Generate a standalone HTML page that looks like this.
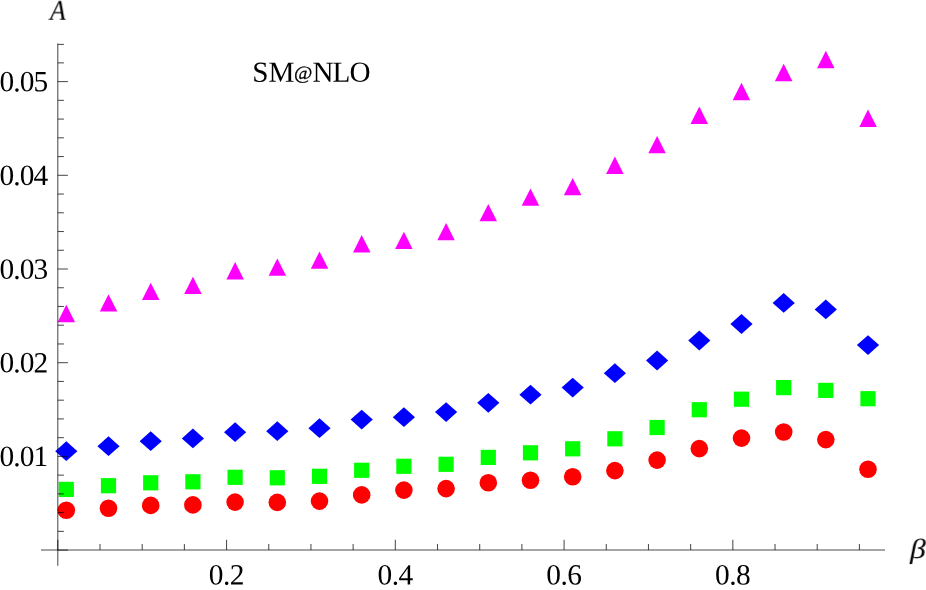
<!DOCTYPE html>
<html><head><meta charset="utf-8"><title>chart</title>
<style>
html,body{margin:0;padding:0;background:#fff;}
body{width:926px;height:590px;overflow:hidden;}
svg{display:block;}
text{font-family:"Liberation Serif",serif;fill:#000;}
</style></head><body>
<svg width="926" height="590" viewBox="0 0 926 590">
<defs><filter id="gs" x="0" y="0" width="926" height="590" filterUnits="userSpaceOnUse" color-interpolation-filters="sRGB"><feColorMatrix type="saturate" values="0"/></filter></defs>
<rect x="0" y="0" width="926" height="590" fill="#ffffff"/>

<g fill="#ff0000">
<circle cx="66.3" cy="510.2" r="8.8"/>
<circle cx="108.5" cy="508.2" r="8.8"/>
<circle cx="150.7" cy="505.4" r="8.8"/>
<circle cx="192.9" cy="504.9" r="8.8"/>
<circle cx="235.1" cy="502.1" r="8.8"/>
<circle cx="277.3" cy="502.4" r="8.8"/>
<circle cx="319.5" cy="501.1" r="8.8"/>
<circle cx="361.7" cy="494.9" r="8.8"/>
<circle cx="403.9" cy="490.1" r="8.8"/>
<circle cx="446.1" cy="488.6" r="8.8"/>
<circle cx="488.3" cy="482.7" r="8.8"/>
<circle cx="530.5" cy="480.2" r="8.8"/>
<circle cx="572.7" cy="476.7" r="8.8"/>
<circle cx="614.9" cy="470.6" r="8.8"/>
<circle cx="657.1" cy="460.1" r="8.8"/>
<circle cx="699.3" cy="448.6" r="8.8"/>
<circle cx="741.5" cy="438.1" r="8.8"/>
<circle cx="783.7" cy="432.0" r="8.8"/>
<circle cx="825.8" cy="439.6" r="8.8"/>
<circle cx="868.0" cy="469.2" r="8.8"/>
</g>
<g fill="#00ff00">
<rect x="58.7" y="481.8" width="15.2" height="15.2"/>
<rect x="100.9" y="478.1" width="15.2" height="15.2"/>
<rect x="143.1" y="475.2" width="15.2" height="15.2"/>
<rect x="185.3" y="474.2" width="15.2" height="15.2"/>
<rect x="227.5" y="469.7" width="15.2" height="15.2"/>
<rect x="269.7" y="470.2" width="15.2" height="15.2"/>
<rect x="311.9" y="468.7" width="15.2" height="15.2"/>
<rect x="354.1" y="462.7" width="15.2" height="15.2"/>
<rect x="396.3" y="458.7" width="15.2" height="15.2"/>
<rect x="438.5" y="456.7" width="15.2" height="15.2"/>
<rect x="480.7" y="449.8" width="15.2" height="15.2"/>
<rect x="522.9" y="445.2" width="15.2" height="15.2"/>
<rect x="565.1" y="441.2" width="15.2" height="15.2"/>
<rect x="607.3" y="431.2" width="15.2" height="15.2"/>
<rect x="649.5" y="419.9" width="15.2" height="15.2"/>
<rect x="691.7" y="402.1" width="15.2" height="15.2"/>
<rect x="733.9" y="391.6" width="15.2" height="15.2"/>
<rect x="776.1" y="380.0" width="15.2" height="15.2"/>
<rect x="818.2" y="382.8" width="15.2" height="15.2"/>
<rect x="860.4" y="391.1" width="15.2" height="15.2"/>
</g>
<g fill="#0000ff">
<polygon points="55.2,451.2 66.3,441.2 77.4,451.2 66.3,461.1"/>
<polygon points="97.4,446.2 108.5,436.2 119.6,446.2 108.5,456.1"/>
<polygon points="139.6,441.2 150.7,431.2 161.8,441.2 150.7,451.1"/>
<polygon points="181.8,438.4 192.9,428.4 204.0,438.4 192.9,448.3"/>
<polygon points="224.0,432.2 235.1,422.2 246.2,432.2 235.1,442.1"/>
<polygon points="266.2,431.2 277.3,421.2 288.4,431.2 277.3,441.1"/>
<polygon points="308.4,428.2 319.5,418.2 330.6,428.2 319.5,438.1"/>
<polygon points="350.6,419.6 361.7,409.7 372.8,419.6 361.7,429.6"/>
<polygon points="392.8,417.2 403.9,407.2 415.0,417.2 403.9,427.1"/>
<polygon points="435.0,412.1 446.1,402.2 457.2,412.1 446.1,422.1"/>
<polygon points="477.2,402.8 488.3,392.9 499.4,402.8 488.3,412.8"/>
<polygon points="519.4,394.7 530.5,384.8 541.6,394.7 530.5,404.6"/>
<polygon points="561.6,387.6 572.7,377.7 583.8,387.6 572.7,397.6"/>
<polygon points="603.8,373.2 614.9,363.2 626.0,373.2 614.9,383.1"/>
<polygon points="646.0,360.5 657.1,350.6 668.2,360.5 657.1,370.4"/>
<polygon points="688.2,340.5 699.3,330.6 710.4,340.5 699.3,350.4"/>
<polygon points="730.4,324.0 741.5,314.1 752.6,324.0 741.5,333.9"/>
<polygon points="772.6,302.9 783.7,292.9 794.8,302.9 783.7,312.8"/>
<polygon points="814.7,309.4 825.8,299.4 836.9,309.4 825.8,319.3"/>
<polygon points="856.9,345.1 868.0,335.2 879.1,345.1 868.0,355.1"/>
</g>
<g fill="#ff00ff">
<polygon points="66.3,304.8 75.1,322.2 57.6,322.2"/>
<polygon points="108.5,294.2 117.3,311.6 99.8,311.6"/>
<polygon points="150.7,282.7 159.5,300.1 142.0,300.1"/>
<polygon points="192.9,276.7 201.7,294.1 184.2,294.1"/>
<polygon points="235.1,262.1 243.9,279.4 226.4,279.4"/>
<polygon points="277.3,258.4 286.1,275.8 268.6,275.8"/>
<polygon points="319.5,251.4 328.3,268.8 310.8,268.8"/>
<polygon points="361.7,235.1 370.5,252.4 353.0,252.4"/>
<polygon points="403.9,231.7 412.6,249.0 395.1,249.0"/>
<polygon points="446.1,222.9 454.8,240.3 437.3,240.3"/>
<polygon points="488.3,203.9 497.0,221.3 479.5,221.3"/>
<polygon points="530.5,188.4 539.2,205.8 521.7,205.8"/>
<polygon points="572.7,177.9 581.4,195.2 563.9,195.2"/>
<polygon points="614.9,156.6 623.6,174.0 606.1,174.0"/>
<polygon points="657.1,136.0 665.8,153.3 648.3,153.3"/>
<polygon points="699.3,106.5 708.0,123.9 690.5,123.9"/>
<polygon points="741.5,82.8 750.2,100.2 732.7,100.2"/>
<polygon points="783.7,63.8 792.4,81.2 774.9,81.2"/>
<polygon points="825.8,50.8 834.6,68.2 817.1,68.2"/>
<polygon points="868.0,109.6 876.8,127.0 859.3,127.0"/>
</g>

<g stroke="#000" stroke-opacity="0.7" stroke-width="1.05" fill="none">
<line x1="41" y1="550" x2="885" y2="550"/>
<line x1="57.8" y1="43.6" x2="57.8" y2="565.8"/>
<line x1="57.80" y1="539.8" x2="57.80" y2="550"/>
<line x1="99.99" y1="543.9" x2="99.99" y2="550"/>
<line x1="142.18" y1="543.9" x2="142.18" y2="550"/>
<line x1="184.37" y1="543.9" x2="184.37" y2="550"/>
<line x1="226.56" y1="539.8" x2="226.56" y2="550"/>
<line x1="268.75" y1="543.9" x2="268.75" y2="550"/>
<line x1="310.94" y1="543.9" x2="310.94" y2="550"/>
<line x1="353.13" y1="543.9" x2="353.13" y2="550"/>
<line x1="395.32" y1="539.8" x2="395.32" y2="550"/>
<line x1="437.51" y1="543.9" x2="437.51" y2="550"/>
<line x1="479.70" y1="543.9" x2="479.70" y2="550"/>
<line x1="521.89" y1="543.9" x2="521.89" y2="550"/>
<line x1="564.08" y1="539.8" x2="564.08" y2="550"/>
<line x1="606.27" y1="543.9" x2="606.27" y2="550"/>
<line x1="648.46" y1="543.9" x2="648.46" y2="550"/>
<line x1="690.65" y1="543.9" x2="690.65" y2="550"/>
<line x1="732.84" y1="539.8" x2="732.84" y2="550"/>
<line x1="775.03" y1="543.9" x2="775.03" y2="550"/>
<line x1="817.22" y1="543.9" x2="817.22" y2="550"/>
<line x1="859.41" y1="543.9" x2="859.41" y2="550"/>
<line x1="57.8" y1="550.10" x2="67.9" y2="550.10"/>
<line x1="57.8" y1="531.36" x2="63.9" y2="531.36"/>
<line x1="57.8" y1="512.62" x2="63.9" y2="512.62"/>
<line x1="57.8" y1="493.88" x2="63.9" y2="493.88"/>
<line x1="57.8" y1="475.14" x2="63.9" y2="475.14"/>
<line x1="57.8" y1="456.40" x2="67.9" y2="456.40"/>
<line x1="57.8" y1="437.66" x2="63.9" y2="437.66"/>
<line x1="57.8" y1="418.92" x2="63.9" y2="418.92"/>
<line x1="57.8" y1="400.18" x2="63.9" y2="400.18"/>
<line x1="57.8" y1="381.44" x2="63.9" y2="381.44"/>
<line x1="57.8" y1="362.70" x2="67.9" y2="362.70"/>
<line x1="57.8" y1="343.96" x2="63.9" y2="343.96"/>
<line x1="57.8" y1="325.22" x2="63.9" y2="325.22"/>
<line x1="57.8" y1="306.48" x2="63.9" y2="306.48"/>
<line x1="57.8" y1="287.74" x2="63.9" y2="287.74"/>
<line x1="57.8" y1="269.00" x2="67.9" y2="269.00"/>
<line x1="57.8" y1="250.26" x2="63.9" y2="250.26"/>
<line x1="57.8" y1="231.52" x2="63.9" y2="231.52"/>
<line x1="57.8" y1="212.78" x2="63.9" y2="212.78"/>
<line x1="57.8" y1="194.04" x2="63.9" y2="194.04"/>
<line x1="57.8" y1="175.30" x2="67.9" y2="175.30"/>
<line x1="57.8" y1="156.56" x2="63.9" y2="156.56"/>
<line x1="57.8" y1="137.82" x2="63.9" y2="137.82"/>
<line x1="57.8" y1="119.08" x2="63.9" y2="119.08"/>
<line x1="57.8" y1="100.34" x2="63.9" y2="100.34"/>
<line x1="57.8" y1="81.60" x2="67.9" y2="81.60"/>
<line x1="57.8" y1="62.86" x2="63.9" y2="62.86"/>
<line x1="57.8" y1="44.40" x2="63.9" y2="44.40"/>
</g>

<g filter="url(#gs)" text-rendering="geometricPrecision">
<g font-size="29.4px" style="letter-spacing:-0.87px">
<text transform="translate(-0.6 466.05) rotate(0.05)">0.01</text>
<text transform="translate(-0.6 372.35) rotate(0.05)">0.02</text>
<text transform="translate(-0.6 278.65) rotate(0.05)">0.03</text>
<text transform="translate(-0.6 184.95) rotate(0.05)">0.04</text>
<text transform="translate(-0.6 91.25) rotate(0.05)">0.05</text>
<text transform="translate(226.31 584.5) rotate(0.05)" text-anchor="middle" style="letter-spacing:-0.6px">0.2</text>
<text transform="translate(395.07 584.5) rotate(0.05)" text-anchor="middle" style="letter-spacing:-0.6px">0.4</text>
<text transform="translate(563.83 584.5) rotate(0.05)" text-anchor="middle" style="letter-spacing:-0.6px">0.6</text>
<text transform="translate(732.59 584.5) rotate(0.05)" text-anchor="middle" style="letter-spacing:-0.6px">0.8</text>
</g>
<text transform="translate(50.1 19.75) rotate(0.05) scale(0.905 1)" font-size="28.6px" font-style="italic">A</text>
<text transform="translate(909.9 558.1) rotate(0.05) scale(1.14 1)" font-size="27.7px" font-style="italic">β</text>
<g font-size="29.2px">
<text transform="translate(252.3 81.7) rotate(0.05)">S</text>
<text transform="translate(268.6 81.7) rotate(0.05)">M</text>
<text transform="translate(312.5 81.7) rotate(0.05)">N</text>
<text transform="translate(332.6 81.7) rotate(0.05)">L</text>
<text transform="translate(349.4 81.7) rotate(0.05)">O</text>
<text transform="translate(294.0 79.25) rotate(0.05) scale(1.05 1)" font-size="19px" stroke="#000" stroke-width="0.3">@</text>
</g>
</g>
</svg>
</body></html>
